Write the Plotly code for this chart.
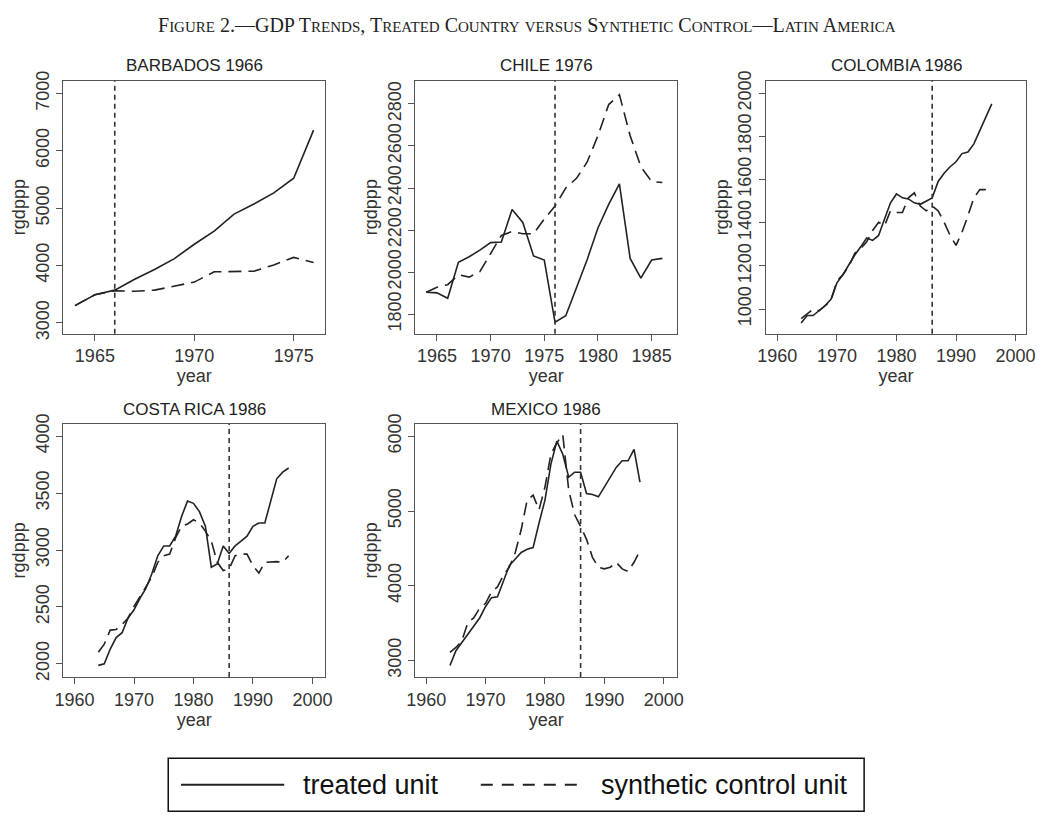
import re
import plotly.graph_objects as go

# ---- data (rgdppp, treated vs synthetic control) ----
barbados_years = list(range(1964, 1977))
barbados_treated = [3300, 3490, 3570, 3760, 3930, 4120, 4370, 4600, 4895, 5070, 5265, 5520, 6360]
barbados_synth = [3300, 3490, 3560, 3550, 3570, 3640, 3710, 3890, 3890, 3900, 4010, 4140, 4050]

chile_years = list(range(1964, 1987))
chile_treated = [1904, 1901, 1875, 2046, 2073, 2104, 2140, 2143, 2298, 2236, 2077, 2057,
                 1761, 1792, 1925, 2060, 2210, 2322, 2420, 2065, 1971, 2057, 2065]
chile_synth = [1904, 1928, 1940, 1987, 1976, 2002, 2088, 2174, 2193, 2182, 2182, 2252,
               2314, 2400, 2446, 2524, 2649, 2797, 2844, 2649, 2501, 2431, 2426]

colombia_years = list(range(1964, 1997))
colombia_treated = [935, 970, 970, 992, 1015, 1045, 1121, 1159, 1205, 1250, 1288, 1329,
                    1318, 1341, 1417, 1492, 1533, 1515, 1510, 1492, 1485, 1500, 1515,
                    1591, 1629, 1659, 1682, 1720, 1727, 1765, 1826, 1886, 1950]
colombia_synth = [955, 977, 1000, 992, 1015, 1038, 1129, 1159, 1197, 1258, 1280, 1311,
                  1364, 1402, 1386, 1455, 1447, 1447, 1515, 1538, 1477, 1455, 1477,
                  1455, 1402, 1341, 1295, 1356, 1432, 1515, 1553, 1553, None]

costarica_years = list(range(1964, 1997))
costarica_treated = [1986, 2000, 2130, 2230, 2273, 2403, 2475, 2576, 2662, 2791, 2950, 3036,
                     3036, 3122, 3295, 3430, 3410, 3338, 3209, 2849, 2878, 3036, 2970,
                     3036, 3079, 3122, 3209, 3238, 3238, 3439, 3626, 3684, 3721]
costarica_synth = [2101, 2173, 2296, 2302, 2345, 2403, 2504, 2590, 2676, 2763, 2892, 2950,
                   2964, 3108, 3209, 3229, 3266, 3238, 3166, 3079, 2892, 2820, 2835,
                   2950, 2964, 2964, 2863, 2797, 2892, 2898, 2898, 2892, 2950]

mexico_years = list(range(1964, 1997))
mexico_treated = [2934, 3131, 3241, 3350, 3447, 3569, 3723, 3841, 3854, 4073, 4270, 4358,
                  4445, 4489, 4511, 4840, 5146, 5628, 5935, 5760, 5453, 5519, 5519,
                  5234, 5221, 5190, 5321, 5462, 5584, 5672, 5672, 5825, 5387]
mexico_synth = [3110, 3175, 3263, 3504, 3569, 3700, 3766, 3920, 3985, 4139, 4248, 4445,
                4752, 5146, 5212, 5015, 5321, 5760, 5913, 6022, 5278, 4949, 4796,
                4621, 4380, 4248, 4226, 4248, 4314, 4226, 4191, 4314, 4467]

panel_titles = ["BARBADOS 1966", "CHILE 1976", "COLOMBIA 1986", "COSTA RICA 1986", "MEXICO 1986"]
treat_years = [1966, 1976, 1986, 1986, 1986]
y_ticks = [[3000, 4000, 5000, 6000, 7000],
           [1800, 2000, 2200, 2400, 2600, 2800],
           [1000, 1200, 1400, 1600, 1800, 2000],
           [2000, 2500, 3000, 3500, 4000],
           [3000, 4000, 5000, 6000]]
x_ticks = [[1965, 1970, 1975],
           [1965, 1970, 1975, 1980, 1985],
           [1960, 1970, 1980, 1990, 2000],
           [1960, 1970, 1980, 1990, 2000],
           [1960, 1970, 1980, 1990, 2000]]

W, H = 1053, 829
# panel boxes in pixels: left, right, top, bottom
boxes = [(55, 322, 72, 330), (413, 680, 72, 330), (770, 1035, 72, 330),
         (55, 322, 422, 680), (413, 680, 422, 680)]
x_ranges = [[1963.4, 1976.6], [1962.95, 1987.4], [1958.07, 2001.8], [1958.07, 2002.2], [1958.1, 2002.3]]
y_ranges = [[2812, 7222], [1707, 2911], [886, 2058], [1885, 4109], [2781, 6166]]

series = [(barbados_years, barbados_treated, barbados_synth),
          (chile_years, chile_treated, chile_synth),
          (colombia_years, colombia_treated, colombia_synth),
          (costarica_years, costarica_treated, costarica_synth),
          (mexico_years, mexico_treated, mexico_synth)]

INK = "#222222"
FRAME = "#555555"
SANS = "Liberation Sans, Arial, sans-serif"

fig = go.Figure()

for i, (yrs, tr, sy) in enumerate(series):
    n = "" if i == 0 else str(i + 1)
    xa, ya = "x" + n, "y" + n
    fig.add_trace(go.Scatter(x=yrs, y=tr, mode="lines", xaxis=xa, yaxis=ya,
                             line=dict(color=INK, width=1.6), showlegend=False))
    fig.add_trace(go.Scatter(x=yrs, y=sy, mode="lines", xaxis=xa, yaxis=ya,
                             line=dict(color=INK, width=1.6, dash="13px,7px"), showlegend=False))

    l, r, t, b = boxes[i]
    common = dict(showline=True, mirror=True, linecolor=FRAME, linewidth=1.4,
                  ticks="outside", ticklen=6, tickwidth=1.2, tickcolor=FRAME,
                  showgrid=False, zeroline=False,
                  tickfont=dict(family=SANS, size=18, color="#333333"))
    fig.layout["xaxis" + n] = dict(domain=[l / W, r / W], anchor=ya, range=x_ranges[i],
                                   tickvals=x_ticks[i],
                                   title=dict(text="year", standoff=2,
                                              font=dict(family=SANS, size=18, color="#333333")),
                                   **common)
    fig.layout["yaxis" + n] = dict(domain=[1 - b / H, 1 - t / H], anchor=xa, range=y_ranges[i],
                                   tickvals=y_ticks[i], tickangle=-90,
                                   title=dict(text="rgdppp", standoff=2,
                                              font=dict(family=SANS, size=18, color="#333333")),
                                   **common)

    # treatment year marker
    fig.add_shape(type="line", xref=xa, yref=ya + " domain", x0=treat_years[i], x1=treat_years[i],
                  y0=0, y1=1, line=dict(color="#333333", width=1.6, dash="5px,4px"))

    fig.add_annotation(text=panel_titles[i], xref="paper", yref="paper",
                       x=(l + r) / 2 / W, y=1 - (t - 15) / H, showarrow=False,
                       xanchor="center", yanchor="middle",
                       font=dict(family=SANS, size=17, color="#222222"))


def small_caps(s, small=15):
    return re.sub(r"[a-z]+", lambda m: '<span style="font-size:%spx">%s</span>' % (small, m.group(0).upper()), s)


fig.add_annotation(text=small_caps("Figure 2.—GDP Trends, Treated Country versus Synthetic Control—Latin America"),
                   xref="paper", yref="paper", x=0.5, y=1 - 15 / H, showarrow=False,
                   xanchor="center", yanchor="middle",
                   font=dict(family="Liberation Serif, Times New Roman, serif", size=20, color="#222222"))

# legend key drawn as a framed box under the panels
fig.add_shape(type="rect", xref="paper", yref="paper", x0=162 / W, x1=870 / W,
              y0=1 - 817 / H, y1=1 - 763 / H, line=dict(color="#111111", width=1.5))
fig.add_shape(type="line", xref="paper", yref="paper", x0=175 / W, x1=280 / W,
              y0=1 - 790 / H, y1=1 - 790 / H, line=dict(color=INK, width=2))
fig.add_shape(type="line", xref="paper", yref="paper", x0=480 / W, x1=585 / W,
              y0=1 - 790 / H, y1=1 - 790 / H, line=dict(color=INK, width=2, dash="12px,9px"))
fig.add_annotation(text="treated unit", xref="paper", yref="paper", x=297 / W, y=1 - 790 / H,
                   xanchor="left", yanchor="middle", showarrow=False,
                   font=dict(family=SANS, size=27, color="#111111"))
fig.add_annotation(text="synthetic control unit", xref="paper", yref="paper", x=600 / W, y=1 - 790 / H,
                   xanchor="left", yanchor="middle", showarrow=False,
                   font=dict(family=SANS, size=27, color="#111111"))

fig.update_layout(width=W, height=H, margin=dict(l=0, r=0, t=0, b=0),
                  paper_bgcolor="white", plot_bgcolor="white", showlegend=False)

fig.write_html("out.html", config={"displayModeBar": False},
               post_script="document.body.style.margin='0px';")
